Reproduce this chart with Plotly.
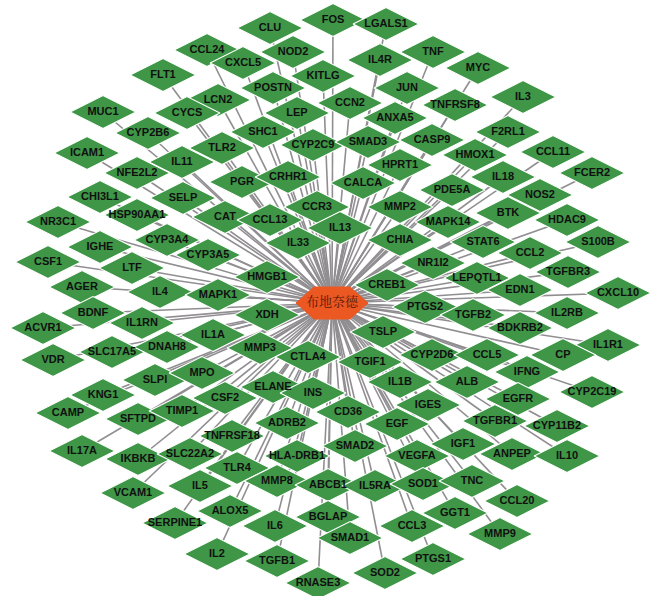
import plotly.graph_objects as go

# Budesonide (central hub) and its target genes
hub_name = "布地奈德"
hub_pos = (332, 303)

genes = [
    "CLU", "FOS", "LGALS1", "NOD2", "CCL24", "CXCL5", "FLT1", "POSTN", "KITLG",
    "IL4R", "TNF", "MYC", "JUN", "TNFRSF8", "IL3", "CCN2", "ANXA5", "LEP",
    "LCN2", "CYCS", "MUC1", "CYP2B6", "SHC1", "CYP2C9", "SMAD3", "CASP9",
    "F2RL1", "HMOX1", "CCL11", "FCER2", "ICAM1", "TLR2", "IL11", "NFE2L2",
    "PGR", "CRHR1", "HPRT1", "CALCA", "IL18", "PDE5A", "NOS2", "CHI3L1",
    "SELP", "CCR3", "MMP2", "BTK", "HDAC9", "MAPK14", "HSP90AA1", "CAT",
    "CCL13", "NR3C1", "IL13", "CHIA", "IL33", "STAT6", "S100B", "CYP3A4",
    "IGHE", "CYP3A5", "NR1I2", "CCL2", "TGFBR3", "CSF1", "LTF", "HMGB1",
    "LEPQTL1", "CREB1", "EDN1", "CXCL10", "AGER", "IL4", "MAPK1", "BDNF",
    "XDH", "PTGS2", "TGFB2", "IL2RB", "ACVR1", "IL1RN", "BDKRB2", "IL1A",
    "TSLP", "IL1R1", "SLC17A5", "DNAH8", "MMP3", "CTLA4", "VDR", "TGIF1",
    "CYP2D6", "CCL5", "CP", "IFNG", "CYP2C19", "SLPI", "MPO", "ELANE", "INS",
    "IL1B", "ALB", "KNG1", "CSF2", "CAMP", "EGFR", "IGES", "CD36", "SFTPD",
    "TIMP1", "ADRB2", "EGF", "TGFBR1", "CYP11B2", "TNFRSF18", "IL17A",
    "IKBKB", "SLC22A2", "HLA-DRB1", "SMAD2", "IGF1", "ANPEP", "IL10", "VEGFA",
    "TLR4", "IL5", "MMP8", "ABCB1", "IL5RA", "SOD1", "TNC", "VCAM1", "ALOX5",
    "CCL20", "BGLAP", "GGT1", "IL6", "SERPINE1", "SMAD1", "CCL3", "MMP9",
    "IL2", "TGFB1", "PTGS1", "SOD2", "RNASE3",
]

# Layout coordinates of each gene node (pixel space, y grows downward)
gene_x = [
    270, 333, 386, 293, 207, 243, 163, 273, 323,
    380, 433, 478, 407, 455, 523, 350, 395, 297,
    218, 187, 103, 148, 263, 313, 368, 432,
    508, 475, 553, 592, 87, 222, 182, 137,
    242, 288, 400, 363, 503, 452, 540, 100,
    183, 317, 400, 508, 567, 448, 137, 225,
    270, 58, 340, 400, 298, 483, 598, 167,
    100, 208, 433, 530, 568, 48, 132, 267,
    477, 387, 520, 618, 82, 160, 218, 93,
    267, 425, 473, 567, 43, 142, 520, 213,
    383, 608, 112, 167, 260, 308, 53, 370,
    432, 487, 563, 527, 592, 155, 202, 273, 313,
    400, 467, 103, 225, 68, 518, 428, 348, 138,
    182, 287, 397, 495, 557, 232, 82,
    138, 190, 297, 355, 463, 512, 567, 417,
    237, 200, 277, 328, 375, 423, 472, 133, 230,
    517, 328, 455, 275, 175, 350, 412, 500,
    217, 277, 433, 385, 318,
]
gene_y = [
    28, 20, 24, 52, 50, 63, 75, 88, 76,
    60, 52, 68, 88, 105, 97, 103, 118, 113,
    100, 113, 112, 133, 132, 145, 142, 140,
    132, 155, 152, 173, 153, 148, 162, 173,
    182, 177, 165, 183, 177, 190, 195, 197,
    198, 207, 207, 213, 220, 222, 215, 217,
    220, 222, 228, 240, 243, 242, 242, 240,
    247, 255, 263, 253, 272, 262, 268, 277,
    278, 285, 290, 293, 287, 292, 295, 313,
    315, 307, 315, 313, 328, 323, 328, 335,
    332, 345, 352, 347, 348, 357, 360, 362,
    355, 355, 355, 372, 392, 380, 373, 387, 393,
    382, 382, 395, 398, 413, 399, 405, 412, 419,
    411, 423, 424, 421, 426, 436, 451,
    459, 454, 456, 446, 444, 454, 456, 456,
    468, 486, 481, 485, 486, 484, 481, 493, 511,
    501, 517, 513, 526, 523, 538, 526, 534,
    554, 561, 559, 573, 583,
]

W, H = 659, 596
NODE_GREEN = "rgb(62,150,70)"
HUB_ORANGE = "rgb(236,88,34)"
EDGE_GREY = "rgb(145,142,146)"

fig = go.Figure()

# Edges: every gene links to the hub
ex, ey = [], []
for x, y in zip(gene_x, gene_y):
    ex += [hub_pos[0], x, None]
    ey += [hub_pos[1], y, None]
fig.add_trace(go.Scatter(
    x=ex, y=ey, mode="lines",
    line=dict(color=EDGE_GREY, width=1.6),
    hoverinfo="skip", showlegend=False,
))

# Gene nodes as wide diamonds
fig.add_trace(go.Scatter(
    x=gene_x, y=gene_y, mode="markers+text",
    text=genes, textposition="middle center",
    textfont=dict(family="Arial, Liberation Sans, sans-serif", size=11,
                  color="#101010", weight="bold"),
    marker=dict(symbol="diamond-wide", size=47, color=NODE_GREEN,
                line=dict(color="white", width=1.2)),
    hoverinfo="text", showlegend=False,
))

# Hub node: flat hexagon
hw, hh, hc = 36, 16, 18
cx, cy = hub_pos
hex_x = [cx - hw, cx - hw + hc, cx + hw - hc, cx + hw, cx + hw - hc, cx - hw + hc, cx - hw]
hex_y = [cy, cy - hh, cy - hh, cy, cy + hh, cy + hh, cy]
fig.add_trace(go.Scatter(
    x=hex_x, y=hex_y, mode="lines", fill="toself",
    fillcolor=HUB_ORANGE, line=dict(color=HUB_ORANGE, width=1),
    hoverinfo="skip", showlegend=False,
))
fig.add_trace(go.Scatter(
    x=[cx], y=[cy], mode="text", text=[hub_name],
    textfont=dict(family="Noto Serif CJK SC, Noto Sans CJK SC", size=13, color="#5a1606"),
    hoverinfo="text", showlegend=False,
))

fig.update_layout(
    width=W, height=H,
    margin=dict(l=0, r=0, t=0, b=0),
    paper_bgcolor="white", plot_bgcolor="white",
    xaxis=dict(range=[0, W], visible=False, fixedrange=True),
    yaxis=dict(range=[H, 0], visible=False, fixedrange=True),
)

fig.write_html("out.html")
